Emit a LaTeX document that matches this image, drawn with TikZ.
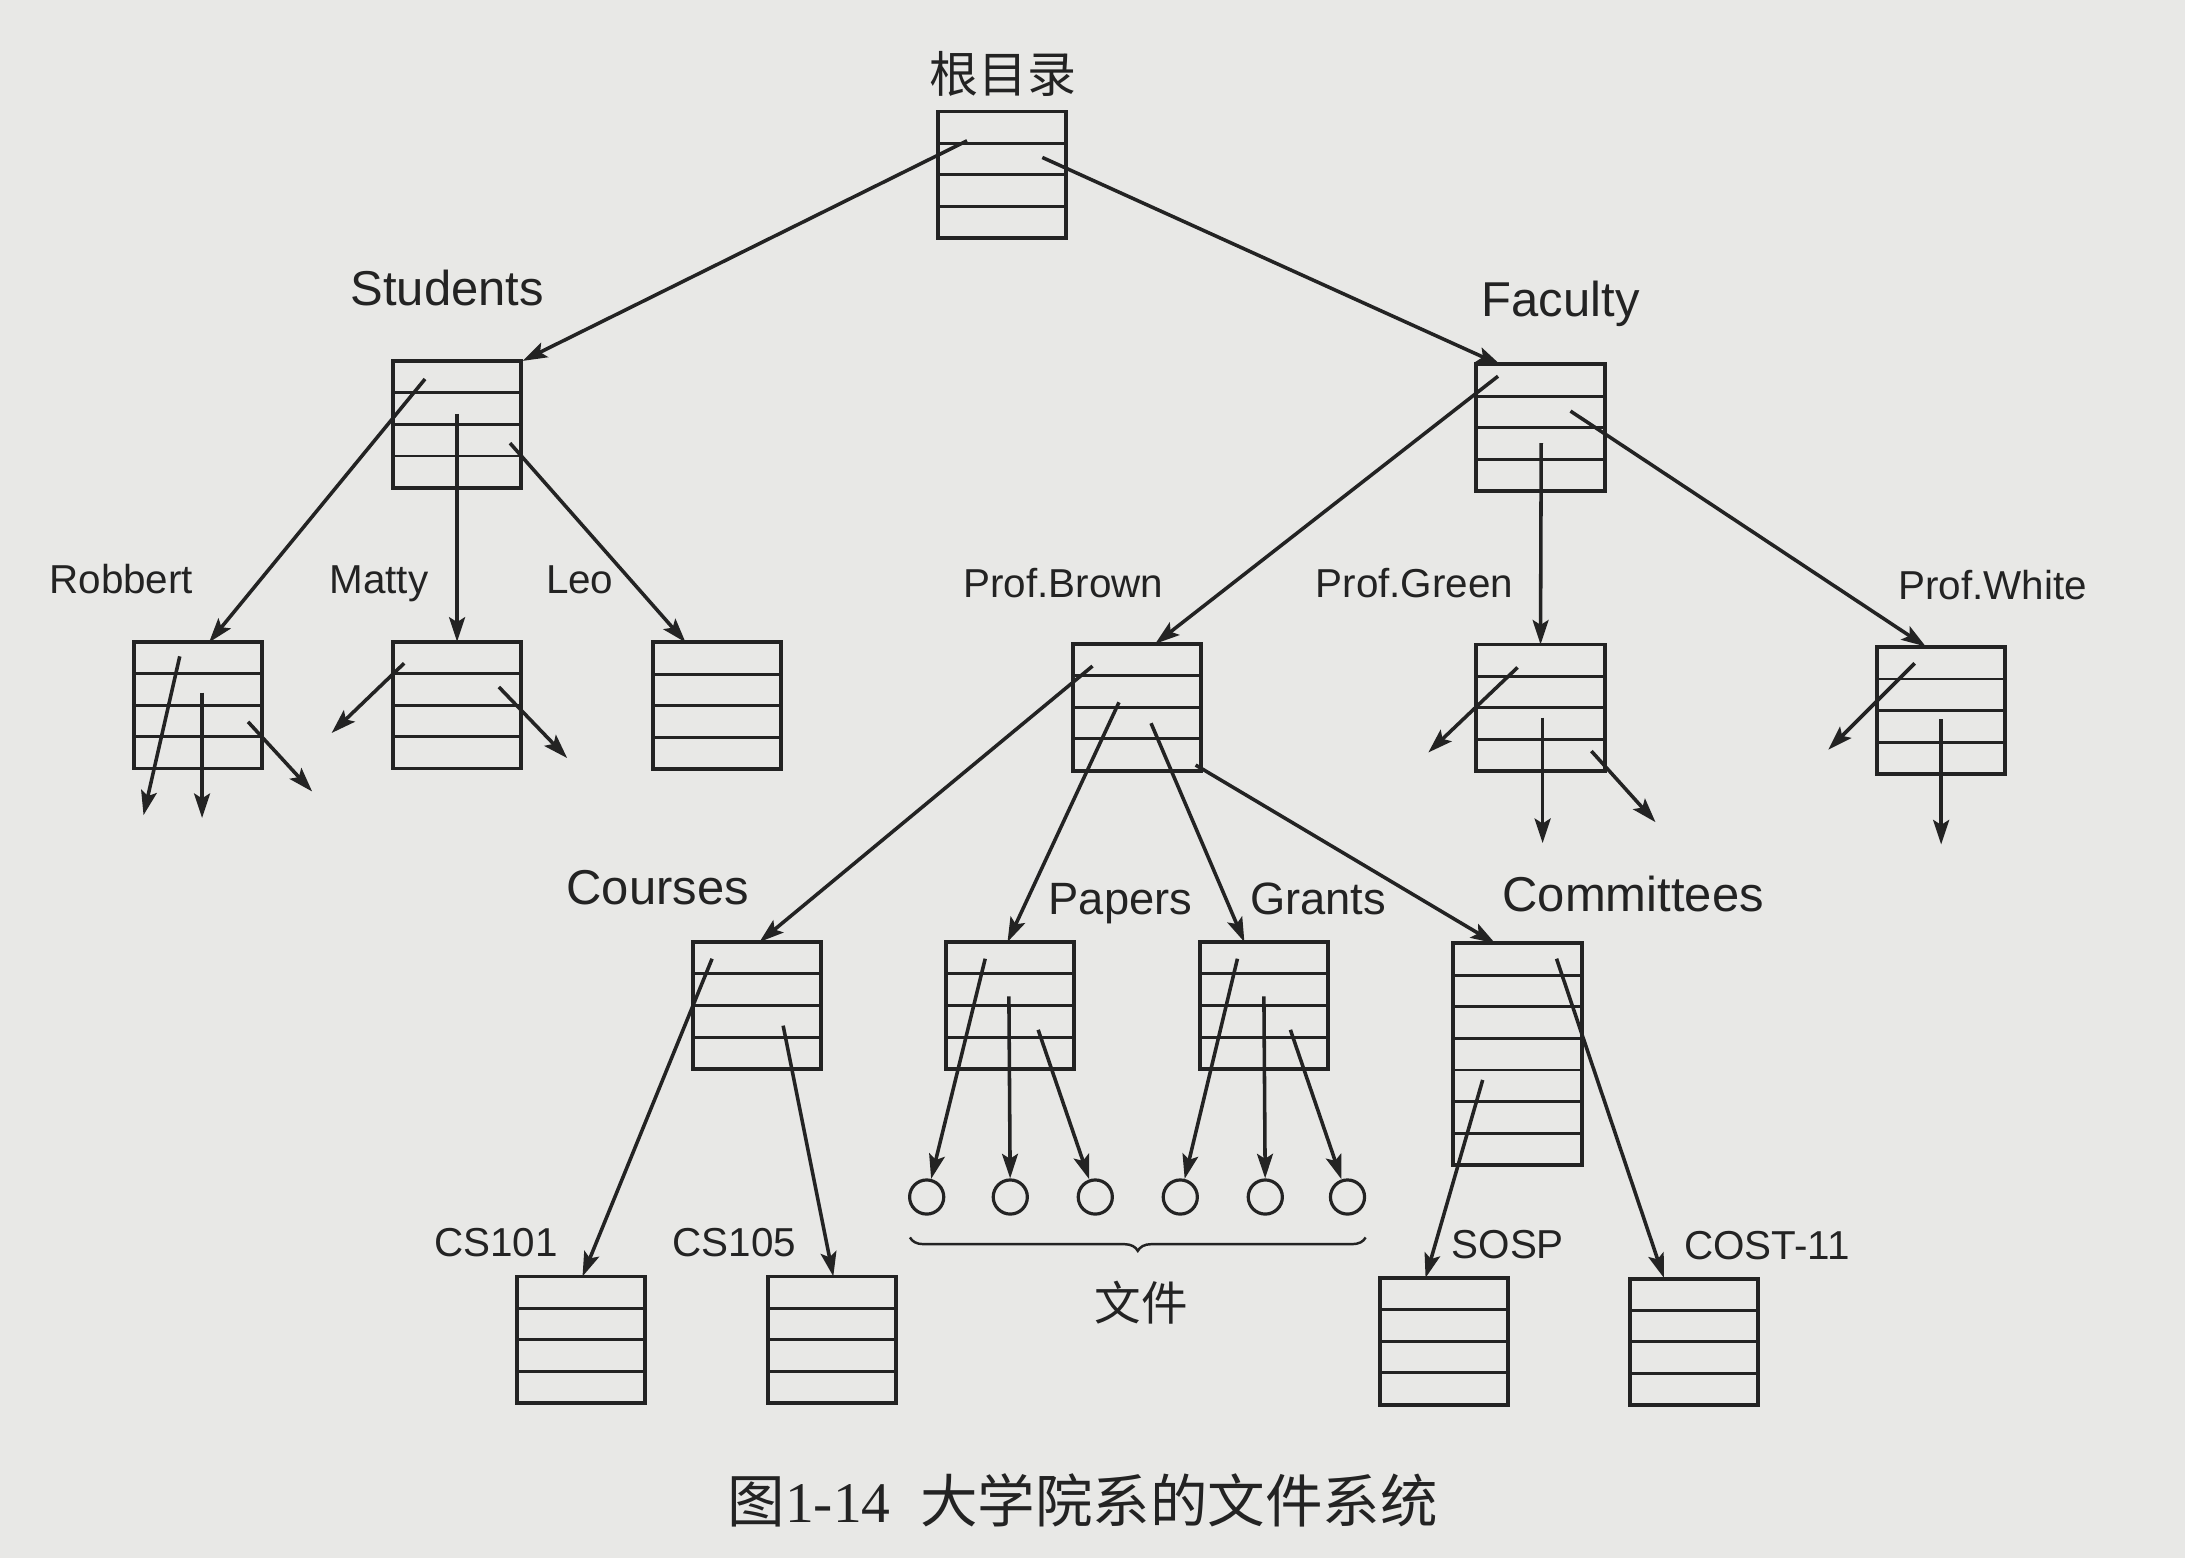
\documentclass[tikz,border=0pt]{standalone}
\usepackage{fontspec}
\setmainfont{Liberation Sans}
\newfontfamily\cjk{Noto Sans CJK SC}
\newfontfamily\tnr{Liberation Serif}
\usetikzlibrary{arrows.meta,calc,decorations.pathreplacing}
\definecolor{bg}{RGB}{232,232,230}
\definecolor{ink}{RGB}{35,35,35}
\tikzset{
  rowlines/.style={path picture={
    \foreach \k in {1,...,#1}{
      \pgfmathsetmacro{\fr}{\k/(#1+1)}
      \draw[line width=1.2pt,ink] ($(path picture bounding box.north west)!\fr!(path picture bounding box.south west)$) --
            ($(path picture bounding box.north east)!\fr!(path picture bounding box.south east)$);}}},
  dbox/.style={draw=ink, line width=1.6pt, minimum width=1.84cm, minimum height=1.82cm,
               inner sep=0pt, outer sep=0pt, rowlines=3},
  tallbox/.style={draw=ink, line width=1.6pt, minimum width=1.84cm, minimum height=3.18cm,
               inner sep=0pt, outer sep=0pt, rowlines=6},
  fnode/.style={draw=ink, circle, line width=1.3pt, minimum size=0.49cm, inner sep=0pt},
  arr/.style={ink, line width=1.45pt, -{Stealth[length=10pt,width=6.5pt,inset=2pt]}},
  lbig/.style={text=ink, font=\fontsize{20}{24}\selectfont, anchor=base, inner sep=0pt},
  lmid/.style={text=ink, font=\fontsize{18.5}{22}\selectfont, anchor=base, inner sep=0pt},
  lsmall/.style={text=ink, font=\fontsize{16.5}{20}\selectfont, anchor=base, inner sep=0pt},
  lcjk/.style={text=ink, font=\cjk\fontsize{20}{24}\selectfont, inner sep=0pt},
}
\begin{document}
\begin{tikzpicture}[x=0.02cm,y=-0.02cm]
\fill[bg] (0,0) rectangle (1568,1118);
\useasboundingbox (0,0) rectangle (1568,1118);

% ---------- boxes ----------
\node[dbox] (root) at (719,125.5) {};
\node[dbox] (students) at (328,304.5) {};
\node[dbox] (faculty) at (1105.5,307) {};
\node[dbox] (robbert) at (142,506) {};
\node[dbox] (matty) at (328,506) {};
\node[dbox] (leo) at (514.5,506.5) {};
\node[dbox] (brown) at (816,507.5) {};
\node[dbox] (green) at (1105.5,508) {};
\node[dbox] (white) at (1393,510) {};
\node[dbox] (courses) at (543,721.5) {};
\node[dbox] (papers) at (725,721.5) {};
\node[dbox] (grants) at (907,721.5) {};
\node[tallbox] (committees) at (1089,756.5) {};
\node[dbox] (cs101) at (417,961.5) {};
\node[dbox] (cs105) at (597,961.5) {};
\node[dbox] (sosp) at (1036,962.5) {};
\node[dbox] (cost) at (1215.5,963) {};

% ---------- files ----------
\node[fnode] (fa) at (665,859) {};
\node[fnode] (fb) at (725,859) {};
\node[fnode] (fc) at (786,859) {};
\node[fnode] (fd) at (847,859) {};
\node[fnode] (fe) at (908,859) {};
\node[fnode] (ff) at (967,859) {};

% ---------- labels ----------
\node[lcjk] (lroot) at (720,53) {根目录};
\node[lbig] (lstudents) at (321,219) {Students};
\node[lbig] (lfaculty) at (1120,227) {Faculty};
\node[lsmall] (lrobbert) at (87,426) {Robbert};
\node[lsmall] (lmatty) at (272,426) {Matty};
\node[lsmall] (lleo) at (416,426) {Leo};
\node[lsmall] (lbrown) at (763,429) {Prof.Brown};
\node[lsmall] (lgreen) at (1015,429) {Prof.Green};
\node[lsmall] (lwhite) at (1430,430) {Prof.White};
\node[lbig] (lcourses) at (472,649) {Courses};
\node[lmid] (lpapers) at (804,656) {Papers};
\node[lmid] (lgrants) at (946,656) {Grants};
\node[lbig] (lcommittees) at (1172,654) {Committees};
\node[lsmall] (lcs101) at (356,902) {CS101};
\node[lsmall] (lcs105) at (527,902) {CS105};
\node[lsmall] (lsosp) at (1082,903) {SOSP};
\node[lsmall] (lcost) at (1268,904) {COST-11};
\node[lcjk, font=\cjk\fontsize{19}{22}\selectfont] (lfiles) at (819,935) {文件};
\node[text=ink, inner sep=0pt] (caption) at (777,1077)
  {\fontsize{23.5}{28}\selectfont\cjk 图{\tnr 1-14}\hspace{12pt}大学院系的文件系统};

% ---------- pointer start points ----------
\coordinate (r1) at (694,101);
\coordinate (r2) at (748,113);
\coordinate (s1) at (305,272);
\coordinate (s2) at (328,297);
\coordinate (s3) at (366,318);
\coordinate (rb1) at (129,471);
\coordinate (rb2) at (145,497);
\coordinate (rb3) at (178,518);
\coordinate (m1) at (290,476);
\coordinate (m2) at (358,493);
\coordinate (f1) at (1075,270);
\coordinate (f2) at (1106,318);
\coordinate (f3) at (1127,295);
\coordinate (b1) at (784,478);
\coordinate (b2) at (803,504);
\coordinate (b3) at (826,519);
\coordinate (b4) at (858,549);
\coordinate (g1) at (1089,479);
\coordinate (g2) at (1107,515);
\coordinate (g3) at (1142,539);
\coordinate (w1) at (1374,476);
\coordinate (w2) at (1393,516);
\coordinate (c1) at (511,688);
\coordinate (c2) at (562,736);
\coordinate (p1) at (707,688);
\coordinate (p2) at (724,715);
\coordinate (p3) at (745,739);
\coordinate (q1) at (888,688);
\coordinate (q2) at (907,715);
\coordinate (q3) at (926,739);
\coordinate (k1) at (1064,775);
\coordinate (k2) at (1117,688);

% ---------- pointer targets ----------
\coordinate (tstud) at (375,259);
\coordinate (tfac) at (1077,262);
\coordinate (trob) at (150,461);
\coordinate (tleo) at (492,461);
\coordinate (tbrown) at (829,462);
\coordinate (twhite) at (1382,464);
\coordinate (tcourses) at (545,676);
\coordinate (tpapers) at (723,676);
\coordinate (tgrants) at (893,676);
\coordinate (tcomm) at (1073,677);
\coordinate (tcs101) at (418,916);
\coordinate (tcs105) at (598,916);
\coordinate (tsosp) at (1023,917);
\coordinate (tcost) at (1194,917);
% dangling ends
\coordinate (e1) at (103,585);
\coordinate (e2) at (145,587);
\coordinate (e3) at (224,568);
\coordinate (e4) at (238,526);
\coordinate (e5) at (407,544);
\coordinate (e6) at (1025,540);
\coordinate (e7) at (1107,605);
\coordinate (e8) at (1188,590);
\coordinate (e9) at (1312,538);
\coordinate (e10) at (1393,606);

% ---------- arrows ----------
\draw[arr] (r1) -- (tstud);
\draw[arr] (r2) -- (tfac);
\draw[arr] (s1) -- (trob);
\draw[arr] (s2) -- (matty.north);
\draw[arr] (s3) -- (tleo);
\draw[arr] (rb1) -- (e1);
\draw[arr] (rb2) -- (e2);
\draw[arr] (rb3) -- (e3);
\draw[arr] (m1) -- (e4);
\draw[arr] (m2) -- (e5);
\draw[arr] (f1) -- (tbrown);
\draw[arr] (f2) -- (green.north);
\draw[arr] (f3) -- (twhite);
\draw[arr] (b1) -- (tcourses);
\draw[arr] (b2) -- (tpapers);
\draw[arr] (b3) -- (tgrants);
\draw[arr] (b4) -- (tcomm);
\draw[arr] (g1) -- (e6);
\draw[arr] (g2) -- (e7);
\draw[arr] (g3) -- (e8);
\draw[arr] (w1) -- (e9);
\draw[arr] (w2) -- (e10);
\draw[arr] (c1) -- (tcs101);
\draw[arr] (c2) -- (tcs105);
\draw[arr] (p1) -- (fa);
\draw[arr] (p2) -- (fb);
\draw[arr] (p3) -- (fc);
\draw[arr] (q1) -- (fd);
\draw[arr] (q2) -- (fe);
\draw[arr] (q3) -- (ff);
\draw[arr] (k1) -- (tsosp);
\draw[arr] (k2) -- (tcost);

% ---------- brace ----------
\coordinate (bl) at (653,888);
\coordinate (br) at (980,888);
\draw[ink, line width=1pt, decorate, decoration={brace, mirror, amplitude=5.5pt}] (bl) -- (br);
\end{tikzpicture}
\end{document}
